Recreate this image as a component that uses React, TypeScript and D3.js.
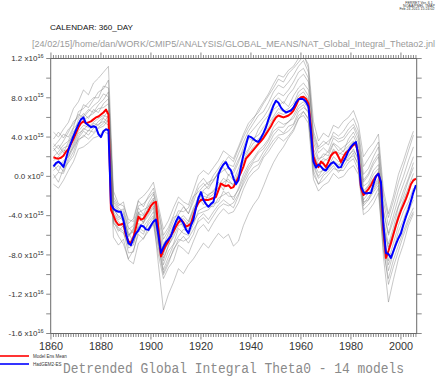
import React from "react";
import * as d3 from "d3";

// Values in units of 1e15
const YEARS = d3.range(1861, 2007); // annual, 1861..2006
const GRAY_YEARS = d3.range(1861, 2006, 2); // biennial, 1861..2005

const ENS_MEAN = [
  1.95, 1.85, 1.8, 1.9, 2.1, 2.5, 2.8, 3.3, 3.8, 4.4,
  5.0, 5.4, 5.6, 5.4, 5.5, 5.6, 5.8, 6.0, 6.1, 6.3,
  6.5, 6.8, 6.3, -3.4, -4.0, -4.6, -4.95, -4.9, -4.8, -6.0,
  -6.6, -6.8, -6.2, -5.2, -4.1, -4.4, -4.3, -3.9, -3.5, -3.0,
  -2.7, -2.6, -5.5, -8.15, -7.5, -7.0, -6.6, -6.0, -5.6, -5.1,
  -4.7, -4.4, -4.7, -5.1, -5.0, -4.8, -4.0, -3.2, -2.7, -2.4,
  -2.35, -2.4, -2.4, -2.3, -2.2, -2.1, -1.4, -0.74, -0.9, -1.0,
  -0.9, -1.2, -1.1, -0.6, -0.1, 0.4, 1.0, 1.8, 2.1, 2.4,
  2.7, 3.0, 3.3, 3.6, 3.9, 4.3, 4.7, 5.1, 5.6, 6.0,
  6.2, 6.1, 6.0, 6.1, 6.2, 6.4, 6.7, 7.2, 7.8, 8.05,
  8.1, 7.9, 7.4, 5.0, 2.0, 1.3, 0.94, 1.5, 1.3, 0.94,
  1.5, 2.1, 2.4, 2.45, 2.0, 1.45, 2.0, 2.4, 2.6, 2.9,
  3.2, 3.3, 2.2, -1.2, -1.9, -1.6, -1.3, -0.9, -0.4, 0.0,
  0.27, -0.8, -5.5, -8.3, -7.6, -6.8, -5.9, -5.0, -4.2, -3.5,
  -2.9, -2.3, -1.6, -0.8, -0.4, -0.24,
];

const HADGEM = [
  1.0, 1.35, 1.5, 1.3, 0.95, 1.8, 2.7, 3.4, 4.1, 4.7,
  5.3, 5.8, 6.0, 5.4, 5.2, 5.0, 5.1, 5.0, 4.3, 4.0,
  4.6, 4.8, 4.7, -2.8, -3.3, -3.5, -3.6, -3.6, -4.5, -5.8,
  -6.8, -7.0, -6.3, -5.8, -5.5, -5.0, -5.1, -5.4, -5.45, -5.0,
  -4.6, -4.4, -6.0, -7.8, -7.2, -6.7, -6.4, -6.1, -5.3, -4.6,
  -4.1, -4.4, -4.8, -5.4, -5.8, -5.0, -4.4, -3.2, -2.2, -1.6,
  -2.4, -2.8, -3.1, -2.8, -2.6, -1.4, 0.2, 0.8, 1.2, 1.45,
  0.9, 0.6, -0.2, -0.8, -0.4, 1.0, 2.2, 3.2, 4.1, 4.0,
  3.8, 3.6, 3.5, 3.9, 4.4, 5.0, 5.8, 6.5, 7.2, 7.7,
  7.5, 7.0, 6.7, 6.5, 6.6, 6.7, 7.0, 7.5, 7.85, 7.9,
  7.85, 7.6, 7.1, 4.5, 1.5, 0.9, 1.2, 1.0, 0.7, 0.6,
  1.0, 1.3, 1.45, 1.2, 0.9, 0.94, 1.5, 2.0, 2.6, 3.0,
  3.3, 3.5, 1.95, -1.0, -1.6, -1.75, -1.7, -1.7, -0.8, 0.0,
  0.27, -0.57, -5.0, -7.8, -7.9, -8.3, -7.6, -6.9, -6.3, -5.8,
  -4.9, -4.1, -3.4, -2.5, -1.6, -0.9,
];

const MODEL_01 = [4.5,4.0,4.8,5.5,6.9,7.6,8.8,8.3,9.5,10.0,10.6,11.2,-1.5,-2.8,-3.0,-4.4,-4.6,-2.5,-3.1,-2.0,-1.2,-3.5,-6.0,-5.2,-4.0,-2.6,-3.0,-3.8,-2.2,-0.8,-0.2,-0.9,0.1,0.8,1.6,1.2,1.0,2.3,3.5,4.6,5.4,6.2,6.6,7.5,8.6,9.3,9.0,9.6,10.3,11.2,11.8,10.6,4.6,3.0,3.6,3.2,4.5,4.1,4.6,5.4,5.9,4.6,1.0,1.8,2.6,3.5,-2.0,-4.2,-2.5,-0.6,1.0,2.6,4.2];
const MODEL_02 = [-0.8,-1.2,-0.4,0.6,1.5,2.8,3.0,3.4,3.9,4.1,4.6,4.3,-6.2,-7.0,-6.4,-8.5,-8.9,-6.8,-6.3,-5.6,-4.9,-8.0,-10.4,-9.3,-8.6,-7.0,-7.4,-7.9,-6.6,-5.4,-4.9,-5.6,-4.7,-3.9,-3.3,-3.8,-3.6,-2.7,-1.3,-0.2,0.4,0.8,1.9,2.5,3.3,4.0,3.6,4.1,4.8,5.9,6.2,5.4,-0.3,-1.5,-0.9,-0.6,0.3,-0.2,0.0,0.7,1.1,0.2,-3.9,-3.5,-2.8,-1.7,-7.6,-10.4,-8.5,-7.0,-5.6,-4.3,-3.2];
const MODEL_03 = [2.6,3.2,2.4,3.5,4.2,5.8,6.4,5.9,6.8,6.5,7.4,7.9,-3.1,-4.2,-3.8,-6.2,-5.4,-3.6,-4.8,-3.0,-2.2,-4.9,-8.3,-7.1,-5.9,-4.3,-5.2,-4.6,-3.4,-2.0,-2.9,-1.8,-1.6,-0.6,-1.4,0.2,-0.4,0.8,2.0,2.8,3.9,4.2,5.0,5.6,6.8,7.2,7.6,7.1,8.2,9.0,9.5,8.8,2.8,1.6,2.3,2.1,3.3,2.6,3.0,3.4,4.1,3.0,-1.0,-0.6,0.6,1.2,-4.4,-6.9,-5.2,-3.1,-2.0,-0.4,0.9];
const MODEL_04 = [3.3,2.8,3.6,4.5,5.6,6.0,7.3,7.0,7.8,8.6,8.9,9.8,-2.6,-3.4,-4.4,-5.7,-6.8,-5.2,-5.6,-4.9,-4.2,-9.0,-13.6,-12.0,-10.8,-9.4,-9.9,-9.0,-8.4,-7.6,-6.8,-7.3,-6.5,-5.8,-6.3,-5.9,-7.1,-6.6,-5.0,-3.8,-2.9,-2.2,-1.0,0.3,1.4,2.3,3.0,3.9,4.6,5.8,6.6,5.9,0.6,-0.8,0.1,0.5,1.1,0.4,1.0,1.8,2.1,1.3,-3.0,-2.4,-1.6,-0.9,-8.2,-12.8,-10.5,-8.4,-6.9,-5.0,-3.8];
const MODEL_05 = [0.9,1.4,1.1,2.2,3.0,4.1,4.9,4.6,5.4,5.2,5.9,5.5,-3.4,-4.0,-4.6,-6.0,-5.3,-3.2,-3.9,-2.7,-1.8,-3.6,-6.4,-5.5,-4.2,-3.9,-3.1,-3.8,-2.6,-1.2,-0.7,-1.3,-0.4,0.4,0.9,0.1,0.6,1.7,2.6,3.9,3.6,4.8,5.6,6.2,7.4,8.0,7.4,8.3,8.9,9.9,10.4,9.6,3.9,2.4,2.9,2.4,3.4,3.0,2.5,3.8,4.5,3.4,-0.6,0.1,1.2,2.0,-3.6,-6.0,-4.5,-3.0,-1.5,-0.2,1.4];
const MODEL_06 = [0.2,-0.6,0.8,1.4,2.1,3.6,4.2,3.8,4.3,4.9,5.1,5.8,-5.0,-6.1,-6.9,-8.4,-7.5,-5.9,-6.4,-5.2,-4.6,-7.3,-10.0,-8.9,-7.4,-6.7,-6.1,-6.8,-5.9,-4.3,-3.8,-4.4,-3.6,-2.9,-2.4,-2.8,-3.2,-2.0,-0.5,0.6,1.4,1.6,2.5,3.2,4.2,4.8,4.4,5.1,5.3,6.6,7.0,6.6,1.0,-0.2,0.3,1.0,1.6,1.2,1.4,2.0,2.8,1.6,-2.8,-2.1,-1.4,-0.6,-6.3,-9.0,-7.5,-5.6,-4.4,-3.0,-2.1];
const MODEL_07 = [3.8,4.5,3.9,4.8,5.3,6.3,6.0,6.6,7.2,7.6,8.4,8.1,-2.1,-3.0,-2.6,-4.8,-4.3,-2.4,-2.0,-1.4,-0.6,-3.0,-5.4,-4.5,-3.2,-2.1,-2.6,-2.9,-1.4,0.1,0.6,0.2,0.9,1.6,2.6,2.2,1.8,3.0,4.3,5.4,6.0,6.5,7.4,8.2,9.0,9.9,9.6,10.5,11.0,11.6,12.3,11.4,5.6,3.6,4.4,4.0,5.2,4.9,5.6,6.0,6.7,5.3,2.0,2.8,3.4,4.3,-1.4,-3.8,-2.0,0.2,1.6,3.2,4.6];
const MODEL_08 = [1.2,0.5,1.6,2.0,3.2,4.4,4.7,5.3,5.0,5.6,6.0,6.7,-4.6,-5.6,-5.0,-7.3,-7.0,-4.8,-5.1,-4.4,-3.6,-6.4,-9.0,-7.6,-6.9,-5.3,-5.8,-6.0,-4.9,-3.5,-3.2,-3.0,-3.1,-2.2,-1.9,-1.6,-2.4,-1.2,0.2,1.2,1.8,2.6,3.1,3.8,5.0,5.6,5.3,5.5,6.2,7.2,7.6,6.9,1.4,0.4,0.6,1.0,2.0,1.5,1.6,2.2,2.6,1.9,-2.4,-1.7,-1.0,-0.2,-5.8,-8.6,-6.8,-5.0,-3.6,-2.6,-1.2];
const MODEL_09 = [2.0,2.5,3.2,3.6,4.9,5.4,6.2,6.8,6.5,7.3,7.8,8.6,-2.9,-3.6,-3.3,-5.2,-5.8,-3.7,-3.4,-3.1,-2.4,-5.8,-8.0,-6.2,-5.0,-4.4,-4.0,-4.6,-3.2,-2.4,-1.6,-2.0,-1.4,-0.9,-0.2,-0.6,-0.8,0.4,1.6,2.6,3.4,3.8,4.4,5.4,6.1,6.9,6.6,6.9,7.4,8.6,9.0,8.2,2.4,1.2,1.8,1.6,2.8,2.2,2.6,3.1,3.6,2.6,-1.5,-0.9,0.2,0.8,-5.0,-7.2,-5.6,-3.8,-2.4,-1.1,0.3];
const MODEL_10 = [-0.2,0.4,0.3,1.6,2.5,3.9,4.6,4.2,4.9,5.3,5.6,5.2,-4.3,-5.4,-5.8,-7.0,-6.6,-5.1,-4.7,-4.0,-3.2,-6.8,-9.5,-8.2,-7.0,-6.1,-5.4,-5.6,-4.6,-3.8,-3.6,-3.4,-2.8,-2.6,-1.5,-2.0,-2.1,-1.4,-0.2,0.9,1.6,2.4,2.8,3.6,4.6,5.0,5.0,5.6,5.9,6.9,7.3,6.4,1.2,0.0,0.8,0.7,1.4,1.0,1.8,1.6,2.4,1.0,-2.6,-2.4,-1.2,-0.4,-6.6,-9.6,-7.8,-6.2,-4.8,-3.6,-2.4];
const MODEL_11 = [2.9,2.2,2.9,3.1,4.6,5.1,5.7,6.1,6.4,6.9,7.0,7.4,-3.6,-4.4,-4.1,-6.0,-5.6,-3.8,-4.0,-3.3,-2.6,-5.0,-7.7,-6.8,-5.4,-4.6,-4.3,-4.9,-3.5,-2.6,-2.0,-2.2,-1.8,-1.1,-0.6,-0.3,-1.0,0.2,1.4,2.3,3.0,3.4,4.1,5.0,5.9,6.5,6.3,6.6,7.1,8.2,8.6,7.8,2.2,1.0,1.5,1.9,2.6,2.4,2.2,2.9,3.5,2.4,-1.7,-1.0,-0.2,0.5,-5.2,-7.4,-5.8,-4.0,-2.7,-1.4,-0.2];
const MODEL_12 = [1.6,2.0,2.7,2.4,3.4,4.6,5.2,5.0,5.5,5.9,6.2,6.0,-3.8,-4.6,-5.2,-6.9,-6.0,-4.4,-4.6,-3.8,-3.0,-6.2,-8.6,-7.0,-6.2,-5.0,-4.8,-5.4,-3.8,-2.4,-1.4,-1.0,-0.5,0.5,1.3,2.0,1.5,2.8,4.0,5.0,5.8,6.8,7.6,8.4,9.4,10.3,10.1,10.8,11.2,12.0,12.5,11.0,3.5,1.8,2.0,2.6,3.9,3.5,3.7,4.4,5.0,3.8,-0.4,0.3,1.5,2.3,-3.4,-5.8,-4.0,-2.2,-0.8,0.6,2.0];
const MODEL_13 = [0.6,1.1,0.5,1.9,2.9,3.8,4.0,4.7,4.5,5.0,5.4,6.2,-4.8,-5.2,-5.6,-7.8,-7.7,-5.5,-5.9,-4.6,-4.0,-7.0,-9.8,-8.6,-7.6,-6.4,-6.6,-6.3,-5.4,-4.6,-4.2,-4.8,-4.0,-3.2,-2.8,-3.0,-2.7,-1.8,-0.8,0.2,0.9,1.2,2.1,2.9,3.7,4.2,4.3,4.6,5.2,6.2,6.6,5.8,0.2,-0.8,-0.4,0.2,0.8,0.6,0.6,1.4,1.8,0.6,-3.4,-2.9,-2.2,-1.2,-7.0,-11.0,-9.2,-7.6,-6.0,-4.6,-3.6];
const MODEL_14 = [3.0,3.6,4.3,4.0,5.0,6.6,6.9,7.5,8.0,8.0,9.2,9.0,-2.4,-3.2,-3.6,-5.4,-5.0,-3.0,-2.8,-2.2,-1.6,-4.2,-7.0,-5.8,-4.6,-3.5,-3.6,-3.2,-2.0,-1.6,-1.0,-0.6,-0.3,0.2,0.6,0.9,0.3,1.4,3.0,4.2,4.8,5.4,6.0,6.8,7.9,8.5,8.2,8.8,9.6,10.6,11.0,10.0,4.2,2.8,3.2,3.6,4.1,3.8,4.0,4.8,5.3,4.2,0.2,0.8,2.0,3.0,-2.6,-5.0,-3.2,-1.4,0.0,1.6,3.0];

const MODELS = [
  MODEL_01, MODEL_02, MODEL_03, MODEL_04, MODEL_05, MODEL_06, MODEL_07,
  MODEL_08, MODEL_09, MODEL_10, MODEL_11, MODEL_12, MODEL_13, MODEL_14,
];

const X_LABELS = [1860, 1880, 1900, 1920, 1940, 1960, 1980, 2000];
const Y_LABELS: [number, string, string][] = [
  [12, "1.2 x10", "16"],
  [8, "8.0 x10", "15"],
  [4, "4.0 x10", "15"],
  [0, "0.0 x10", "0"],
  [-4, "-4.0 x10", "15"],
  [-8, "-8.0 x10", "15"],
  [-12, "-1.2 x10", "16"],
  [-16, "-1.6 x10", "16"],
];

const W = 440;
const H = 376;
const L = 50.7;
const R = 416.7;
const T = 58.5;
const B = 333.5;

export default function App() {
  const x = d3.scaleLinear().domain([1859.9, 2006.3]).range([L, R]);
  const y = d3.scaleLinear().domain([-16, 12]).range([B, T]);

  const annual = d3
    .line<number>()
    .x((_, i) => x(YEARS[i]))
    .y((d) => y(d));
  const biennial = d3
    .line<number>()
    .x((_, i) => x(GRAY_YEARS[i]))
    .y((d) => y(d));

  const minorYears = d3.range(1860, 2007);
  const yTicks = d3.range(-16, 12.01, 2);
  const axisColor = "#6a6a6a";
  const sans = "'Liberation Sans', Arial, sans-serif";

  return (
    <svg
      width={W}
      height={H}
      style={{ position: "absolute", left: 0, top: 0, background: "#fff" }}
      fontFamily={sans}
    >
      <defs>
        <clipPath id="plotClip">
          <rect x={L} y={T} width={R - L} height={B - T} />
        </clipPath>
      </defs>

      {/* header texts */}
      <g fontSize={3.6} fill="#333" textAnchor="middle">
        <text x={419} y={4}>FERRET Ver. 6.1</text>
        <text x={419} y={7.2}>NOAA/PMEL TMAP</text>
        <text x={417} y={10.4}>Feb 24 2015 15:24:02</text>
      </g>
      <text x={50} y={30} fontSize={8} fill="#111" textLength={83} lengthAdjust="spacingAndGlyphs">
        CALENDAR: 360_DAY
      </text>
      <text x={32} y={46.5} fontSize={8.8} fill="#9a9a9a" textLength={403} lengthAdjust="spacingAndGlyphs">
        [24/02/15]/home/dan/WORK/CMIP5/ANALYSIS/GLOBAL_MEANS/NAT_Global_Integral_Thetao2.jnl
      </text>

      {/* gray model lines */}
      <g clipPath="url(#plotClip)" fill="none">
        {MODELS.map((m, k) => (
          <path key={k} d={biennial(m) || ""} stroke="#7a7a7a" strokeWidth={0.5} strokeOpacity={0.85} />
        ))}
        <path d={annual(ENS_MEAN) || ""} stroke="#ff0000" strokeWidth={2} strokeLinejoin="round" />
        <path d={annual(HADGEM) || ""} stroke="#0000ff" strokeWidth={2} strokeLinejoin="round" />
      </g>

      {/* frame */}
      <rect x={L} y={T} width={R - L} height={B - T} fill="none" stroke={axisColor} strokeWidth={1} />

      {/* x ticks top & bottom */}
      <g stroke={axisColor} strokeWidth={0.8}>
        {minorYears.map((yr) => {
          const major = yr % 20 === 0;
          const len = major ? 6 : 3.5;
          const xx = x(yr);
          return (
            <g key={yr}>
              <line x1={xx} x2={xx} y1={T} y2={T - len} />
              <line x1={xx} x2={xx} y1={B} y2={B + len} />
            </g>
          );
        })}
        {yTicks.map((v) => (
          <g key={v}>
            <line x1={L} x2={L - 4.5} y1={y(v)} y2={y(v)} />
            <line x1={R} x2={R + 5} y1={y(v)} y2={y(v)} />
          </g>
        ))}
      </g>

      {/* x labels */}
      <g fontSize={10} fill="#333" textAnchor="middle">
        {X_LABELS.map((yr) => (
          <text key={yr} x={x(yr)} y={349.5} textLength={24} lengthAdjust="spacingAndGlyphs">
            {yr}
          </text>
        ))}
      </g>

      {/* y labels */}
      <g fontSize={8} fill="#333" textAnchor="end">
        {Y_LABELS.map(([v, base, exp]) => (
          <text key={v} x={43.5} y={y(v) + 2.8}>
            <tspan>{base}</tspan>
            <tspan dy={-3.2} fontSize={5.5}>{exp}</tspan>
          </text>
        ))}
      </g>

      {/* legend */}
      <line x1={0} x2={29} y1={356} y2={356} stroke="#ff0000" strokeWidth={1.6} />
      <text x={33} y={357.5} fontSize={4.5} fill="#333">Model Ens Mean</text>
      <line x1={0} x2={29} y1={364} y2={364} stroke="#0000ff" strokeWidth={1.6} />
      <text x={33} y={365.5} fontSize={4.5} fill="#333">HadGEM2-ES</text>

      {/* bottom title */}
      <text
        x={63}
        y={372.5}
        fontSize={14}
        fill="#8a8a8a"
        fontFamily="'Liberation Mono', 'DejaVu Sans Mono', monospace"
        textLength={341}
        lengthAdjust="spacingAndGlyphs"
      >
        Detrended Global Integral Theta0 - 14 models
      </text>
    </svg>
  );
}
